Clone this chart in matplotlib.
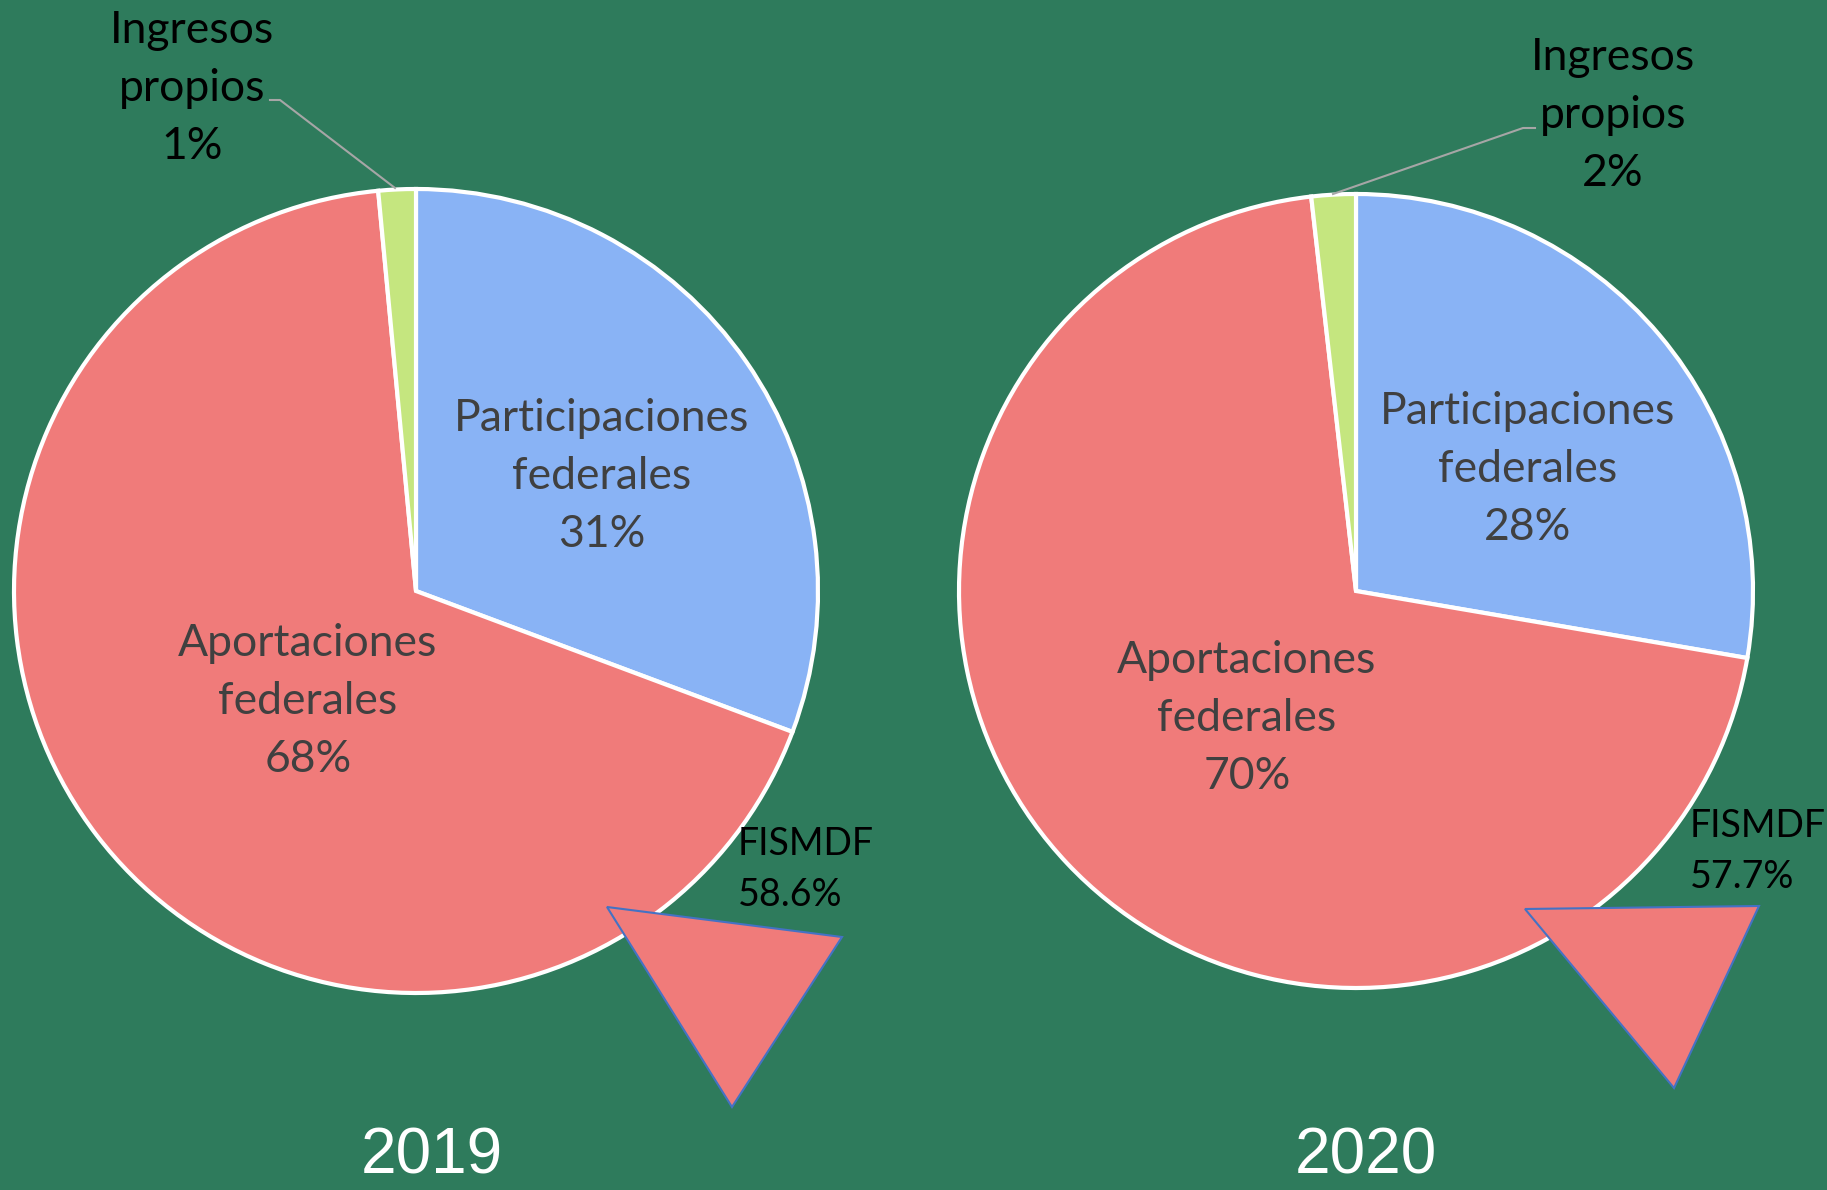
import matplotlib
matplotlib.use("Agg")
import matplotlib.pyplot as plt
from matplotlib.patches import Polygon

# ---- data ----
categories = ["Participaciones federales", "Aportaciones federales", "Ingresos propios"]
values_2019 = [30.7, 67.8, 1.5]
values_2020 = [27.7, 70.5, 1.8]
pct_labels_2019 = ["31%", "68%", "1%"]
pct_labels_2020 = ["28%", "70%", "2%"]
years = ["2019", "2020"]
fismdf_labels = ["58.6%", "57.7%"]

# ---- style ----
BG = "#2E7B5C"
COLORS = ["#89B3F5", "#F07B7A", "#C5E67F"]
W, H = 1827, 1190
FONT = "Lato"
STEP = 58

fig = plt.figure(figsize=(W / 100, H / 100), dpi=100, facecolor=BG)
ax = fig.add_axes([0, 0, 1, 1])
ax.set_facecolor(BG)


def Y(y):
    return H - y


def lines(x, y0, texts, color, fs=32, step=STEP):
    for i, t in enumerate(texts):
        ax.text(x, Y(y0 + i * step), t, ha="center", va="baseline",
                fontsize=fs, color=color, family=FONT, zorder=6)


def draw_year(values, pcts, year, fis, cx, cy, r, lab_main, lab_ap, lab_ing, leader,
              year_x, fis_xy, tri):
    ax.pie(values, colors=COLORS, startangle=90, counterclock=False,
           center=(cx, Y(cy)), radius=r,
           wedgeprops=dict(edgecolor="white", linewidth=3))
    lines(lab_main[0], lab_main[1], ["Participaciones", "federales", pcts[0]], "#404040")
    lines(lab_ap[0], lab_ap[1], ["Aportaciones", "federales", pcts[1]], "#404040")
    lines(lab_ing[0], lab_ing[1], ["Ingresos", "propios", pcts[2]], "black")
    xs = [p[0] for p in leader]
    ys = [Y(p[1]) for p in leader]
    ax.plot(xs, ys, color="#A6A6A6", lw=1.5)
    # triangle callout
    poly = Polygon([(p[0], Y(p[1])) for p in tri], closed=True,
                   facecolor=COLORS[1], edgecolor="#4472C4", lw=1.5, zorder=5)
    ax.add_patch(poly)
    ax.text(fis_xy[0], Y(fis_xy[1]), "FISMDF", ha="left", va="baseline",
            fontsize=27, color="black", family=FONT, zorder=6)
    ax.text(fis_xy[0], Y(fis_xy[1] + 51), fis, ha="left", va="baseline",
            fontsize=27, color="black", family=FONT, zorder=6)
    ax.text(year_x, Y(1174), year, ha="center", va="baseline",
            fontsize=46, color="white", family="Liberation Sans")


draw_year(values_2019, pct_labels_2019, years[0], fismdf_labels[0],
          416, 591, 402,
          (602, 431), (308, 656), (192, 43),
          [(270, 100), (280, 100), (395, 188)],
          432, (738, 855),
          [(607, 907), (842, 937), (732, 1107)])
draw_year(values_2020, pct_labels_2020, years[1], fismdf_labels[1],
          1356, 591, 397,
          (1528, 424), (1247, 673), (1613, 70),
          [(1535, 128), (1523, 128), (1333, 194)],
          1366, (1690, 837),
          [(1525, 909), (1759, 906), (1674, 1088)])

ax.set_xlim(0, W)
ax.set_ylim(0, H)
ax.set_aspect("equal")
ax.axis("off")
fig.savefig("out.png", dpi=100, facecolor=BG)
